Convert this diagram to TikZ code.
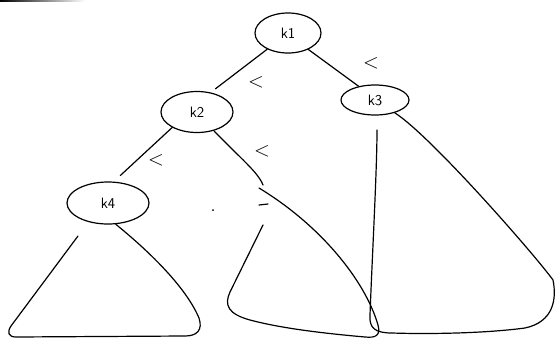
\documentclass[tikz,border=0pt]{standalone}
\usetikzlibrary{shapes.geometric}
\begin{document}
\begin{tikzpicture}[x=1pt,y=-1pt,line width=1.2pt,line cap=round,line join=round,
  keynode/.style={draw,ellipse,inner sep=0pt,font=\sffamily\fontsize{15}{15}\selectfont},
  lt/.style={inner sep=0pt,font=\fontsize{22}{22}\selectfont}]
\useasboundingbox (0,0) rectangle (555,338);
% top-left artifact
\shade[left color=black,right color=white,draw=none] (0,0) rectangle (85,1.5);
% key nodes
\node[keynode,minimum width=66pt,minimum height=40pt] (k1) at (288,33) {k1};
\node[keynode,minimum width=72pt,minimum height=41pt] (k2) at (197,112) {k2};
\node[keynode,minimum width=68pt,minimum height=30pt] (k3) at (375,100) {k3};
\node[keynode,minimum width=82pt,minimum height=42pt] (k4) at (108,203) {k4};
% "<" labels
\node[lt] (l1) at (256,82) {$<$};
\node[lt] (l2) at (371,63) {$<$};
\node[lt] (l3) at (156,160) {$<$};
\node[lt] (l4) at (262,151) {$<$};
% edges
\coordinate (m1) at (263,185);
\draw[shorten >=6pt] (k1.218) -- (k2.55);
\draw (k1.321) -- (k3.140);
\draw[shorten >=9pt] (k2.212) -- (k4.75);
\draw (k2.312) .. controls (240,158) and (258,172) .. (m1);
% stray marks
\fill (213,210) circle (1pt);
\draw (259,205) -- (268,204);
% left subtree
\draw (k4.290) .. controls (145,248) and (185,285) .. (199,318)
  .. controls (203,330) and (197,336) .. (185,336) -- (16,337)
  .. controls (8,337) and (7,332) .. (11,326) -- (78,236);
% middle subtree
\draw (259,188) .. controls (320,225) and (365,280) .. (378,325)
  .. controls (381,336) and (375,338) .. (365,337)
  .. controls (320,333) and (280,328) .. (250,320)
  .. controls (228,314) and (224,305) .. (230,292) -- (263,225);
% right subtree
\draw (k3.327) .. controls (430,135) and (535,255) .. (553,280)
  .. controls (557,300) and (553,322) .. (525,328)
  .. controls (480,334) and (420,334) .. (392,333)
  .. controls (375,333) and (369,328) .. (370,315)
  .. controls (372,260) and (377,170) .. (377,130);
\end{tikzpicture}
\end{document}
